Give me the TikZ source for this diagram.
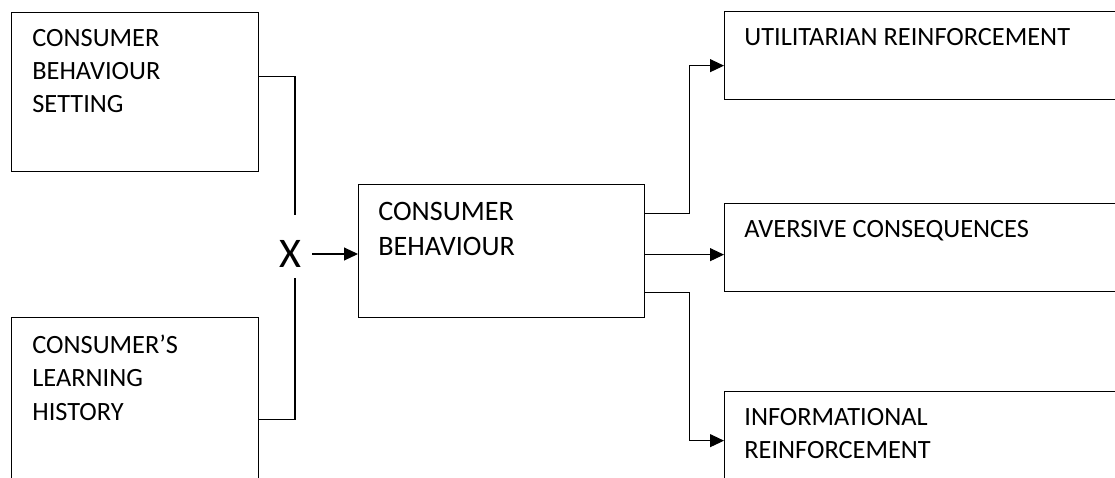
\documentclass[tikz,border=0pt]{standalone}
\usepackage{fontspec}
\setmainfont{Carlito}
\usetikzlibrary{arrows.meta,calc}

\begin{document}
\begin{tikzpicture}[x=0.02cm, y=-0.02cm,
  box/.style={draw, line width=0.75pt, rectangle, anchor=north west, inner sep=0pt},
  txt/.style={anchor=north west, inner sep=0pt, align=left,
              font=\fontsize{15}{18.8}\selectfont},
  link/.style={line width=0.6pt},
  arr/.style={link, -{Triangle[length=0.28cm, width=0.26cm]}}
]
  \useasboundingbox (0,0) rectangle (1115,477);
  \clip (0,0) rectangle (1115,477);
  \node[box, minimum width=4.94cm, minimum height=3.18cm] (setting)   at (11,12)   {};
  \node[box, minimum width=4.94cm, minimum height=4.08cm] (history)   at (11,317)  {};
  \node[box, minimum width=5.72cm, minimum height=2.66cm] (behaviour) at (358,184) {};
  \node[box, minimum width=8.4cm,  minimum height=1.76cm] (util)      at (724,11)  {};
  \node[box, minimum width=8.4cm,  minimum height=1.76cm] (aver)      at (724,203) {};
  \node[box, minimum width=8.4cm,  minimum height=1.96cm] (info)      at (724,391) {};
  \node[txt] (settingtxt)   at ($(setting.north west)+(21,17)$)   {CONSUMER\\BEHAVIOUR\\SETTING};
  \node[txt] (historytxt)   at ($(history.north west)+(21,18)$)   {CONSUMER’S\\LEARNING\\HISTORY};
  \node[txt, font=\fontsize{16}{19.9}\selectfont] (behaviourtxt)
                            at ($(behaviour.north west)+(20,18)$) {CONSUMER\\BEHAVIOUR};
  \node[txt] (utiltxt)      at ($(util.north west)+(20,17)$)      {UTILITARIAN REINFORCEMENT};
  \node[txt] (avertxt)      at ($(aver.north west)+(20,17)$)      {AVERSIVE CONSEQUENCES};
  \node[txt] (infotxt)      at ($(info.north west)+(20,17)$)      {INFORMATIONAL\\REINFORCEMENT};
  \node[font=\fontsize{24}{24}\selectfont, inner sep=0pt] (cross) at (290,254) {X};
  \coordinate (jt) at (295,215);
  \coordinate (jb) at (295,278);
  \draw[link] ([yshift=0.31cm]setting.east) -| (jt);
  \draw[link] (history.east) -| (jb);
  \draw[arr] ([xshift=0.22cm]cross.east) -- (cross.east -| behaviour.west);
  \draw[arr] ([yshift=0.75cm]behaviour.east) -- ++(44,0) |- ([yshift=-0.2cm]util.west);
  \draw[arr] ([yshift=-0.14cm]aver.west -| behaviour.east) -- ([yshift=-0.14cm]aver.west);
  \draw[arr] ([yshift=-0.83cm]behaviour.east) -- ++(44,0) |- (info.west);
\end{tikzpicture}
\end{document}
